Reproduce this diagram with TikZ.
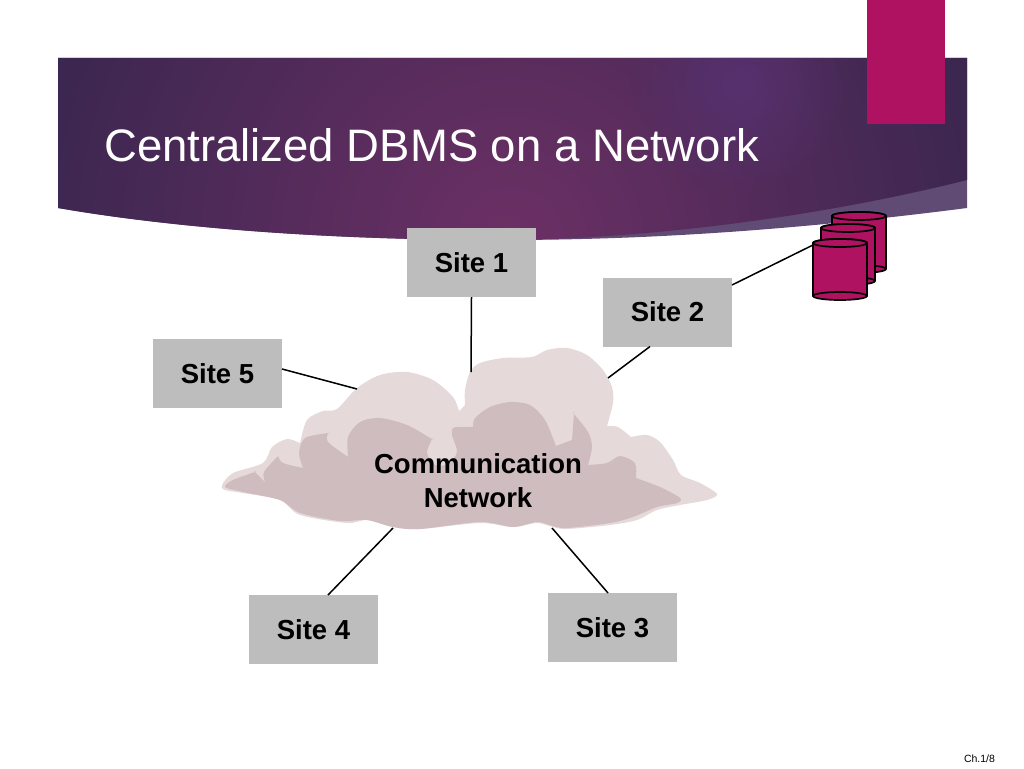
\documentclass[tikz,border=0pt]{standalone}
\usepackage{fontspec}
\setmainfont{Liberation Sans}
\usetikzlibrary{fadings}
\definecolor{hdrdark}{HTML}{33254C}
\definecolor{hdrmid}{HTML}{6C3065}
\definecolor{hdrspot}{HTML}{56316F}
\definecolor{hdrband}{HTML}{5F4B73}
\definecolor{tabpink}{HTML}{B01262}
\definecolor{boxgray}{HTML}{BDBDBD}
\definecolor{cloudlight}{HTML}{E5D9D9}
\definecolor{clouddark}{HTML}{CFBCBE}
\tikzfading[name = softspot, inner color = transparent!0, outer color = transparent!100]
\tikzset{
  site/.style = {fill = boxgray, minimum width = 129, minimum height = 69, inner sep = 0, font = \fontsize{27.5}{34}\selectfont\bfseries},
  link/.style = {draw = black, line width = 1.5},
  disk/.style = {draw = black, fill = tabpink, line width = 1.7},
}
\begin{document}
\begin{tikzpicture}[x=1pt,y=-1pt]
\useasboundingbox (0,0) rectangle (1024,768);
% header band
\fill[hdrband] (58,58) -- (967,58) -- (967,208) .. controls (750,236) and (600,240) .. (500,240) .. controls (300,240) and (150,224) .. (58,208) -- cycle;
\begin{scope}
\clip (58,58) -- (967,58) -- (967,180) .. controls (800,222) and (620,240) .. (500,240) .. controls (300,240) and (150,224) .. (58,208) -- cycle;
\shade[inner color = hdrmid, outer color = hdrdark] (-50,-320) rectangle (1070,800);
\fill[hdrspot, path fading = softspot] (740,85) circle (110);
\end{scope}
\fill[tabpink] (867,0) rectangle (945,124);
\node[anchor = west, inner sep = 0, text = white, font = \fontsize{45.5}{54}\selectfont] (title) at (104,145) {Centralized DBMS on a Network};
% cloud
\fill[cloudlight] plot[smooth cycle, tension = .5] coordinates {(222,485) (233,473) (263,463) (272,447) (287,439) (300,443) (300,443) (307,420) (323,411) (337,409) (357,388) (380,375) (407,372) (433,380) (453,397) (459,411) (459,411) (465,405) (465,405) (465,390) (470,372) (480,363) (503,358) (532,357) (547,350) (567,348) (587,355) (603,370) (612,387) (613,403) (607,426) (607,426) (618,427) (631,437) (631,437) (647,435) (660,442) (673,460) (681,475) (700,483) (717,494) (707,500) (680,505) (657,510) (637,520) (610,525) (567,529) (553,527) (537,523) (513,527) (480,523) (420,529) (393,527) (367,520) (347,523) (300,515) (280,500) (243,493) (225,490)};
\fill[clouddark] plot[smooth cycle, tension = .5] coordinates {(225,487) (233,480) (255,472) (255,472) (265,482) (265,482) (264,472) (278,456) (278,456) (283,463) (303,468) (303,468) (299,453) (305,438) (328,433) (328,433) (328,442) (348,457) (348,457) (348,437) (360,422) (380,418) (407,425) (432,439) (432,439) (427,453) (435,465) (448,464) (457,452) (452,435) (453,428) (460,427) (473,427) (473,427) (475,418) (490,407) (510,402) (530,405) (545,420) (556,446) (556,446) (572,440) (572,440) (574,414) (574,414) (588,432) (592,447) (588,465) (588,465) (607,463) (620,456) (635,463) (636,478) (636,478) (660,487) (680,498) (677,503) (657,507) (633,517) (610,523) (567,528) (553,526) (537,522) (513,527) (480,522) (420,529) (393,527) (367,520) (340,521) (300,513) (280,500) (243,492)};
\node[align = center, inner sep = 0, font = \fontsize{27.5}{34}\selectfont\bfseries] (net) at (478,481) {Communication\\Network};
% sites
\node[site] (s1) at (471.5,262.5) {Site 1};
\node[site] (s2) at (667.5,312) {Site 2};
\node[site] (s3) at (612.5,627.5) {Site 3};
\node[site] (s4) at (313.5,629.5) {Site 4};
\node[site] (s5) at (217.5,373.5) {Site 5};
% free ends on the cloud and the disks
\coordinate (c1) at (471,372);
\coordinate (c2) at (608,378);
\coordinate (c3) at (552,528);
\coordinate (c4) at (393,528);
\coordinate (c5) at (357,389);
\coordinate (db) at (813,245);
\coordinate (s2a) at (650,346.5);
\coordinate (s2b) at (732,285);
\coordinate (s3a) at (608,593);
\coordinate (s4a) at (328,595);
\coordinate (s5a) at (282,369);
\draw[link] (s1.south) -- (c1);
\draw[link] (s2a) -- (c2);
\draw[link] (s2b) -- (db);
\draw[link] (s3a) -- (c3);
\draw[link] (s4a) -- (c4);
\draw[link] (s5a) -- (c5);
% disks, back to front
\foreach \x/\y in {832/216, 821/228, 813/243} {
  \draw[disk] (\x,\y) -- (\x,\y+53) arc[start angle = 180, end angle = 0, x radius = 27, y radius = 4] -- (\x+54,\y) arc[start angle = 0, end angle = -180, x radius = 27, y radius = 4] -- cycle;
  \draw[disk] (\x+27,\y) ellipse (27 and 4);
  \draw[disk] (\x,\y+53) arc[start angle = 180, end angle = 360, x radius = 27, y radius = 4];
}
\node[inner sep = 0, font = \fontsize{10.5}{12}\selectfont] (page) at (979.5,759) {Ch.1/8};
\end{tikzpicture}
\end{document}
